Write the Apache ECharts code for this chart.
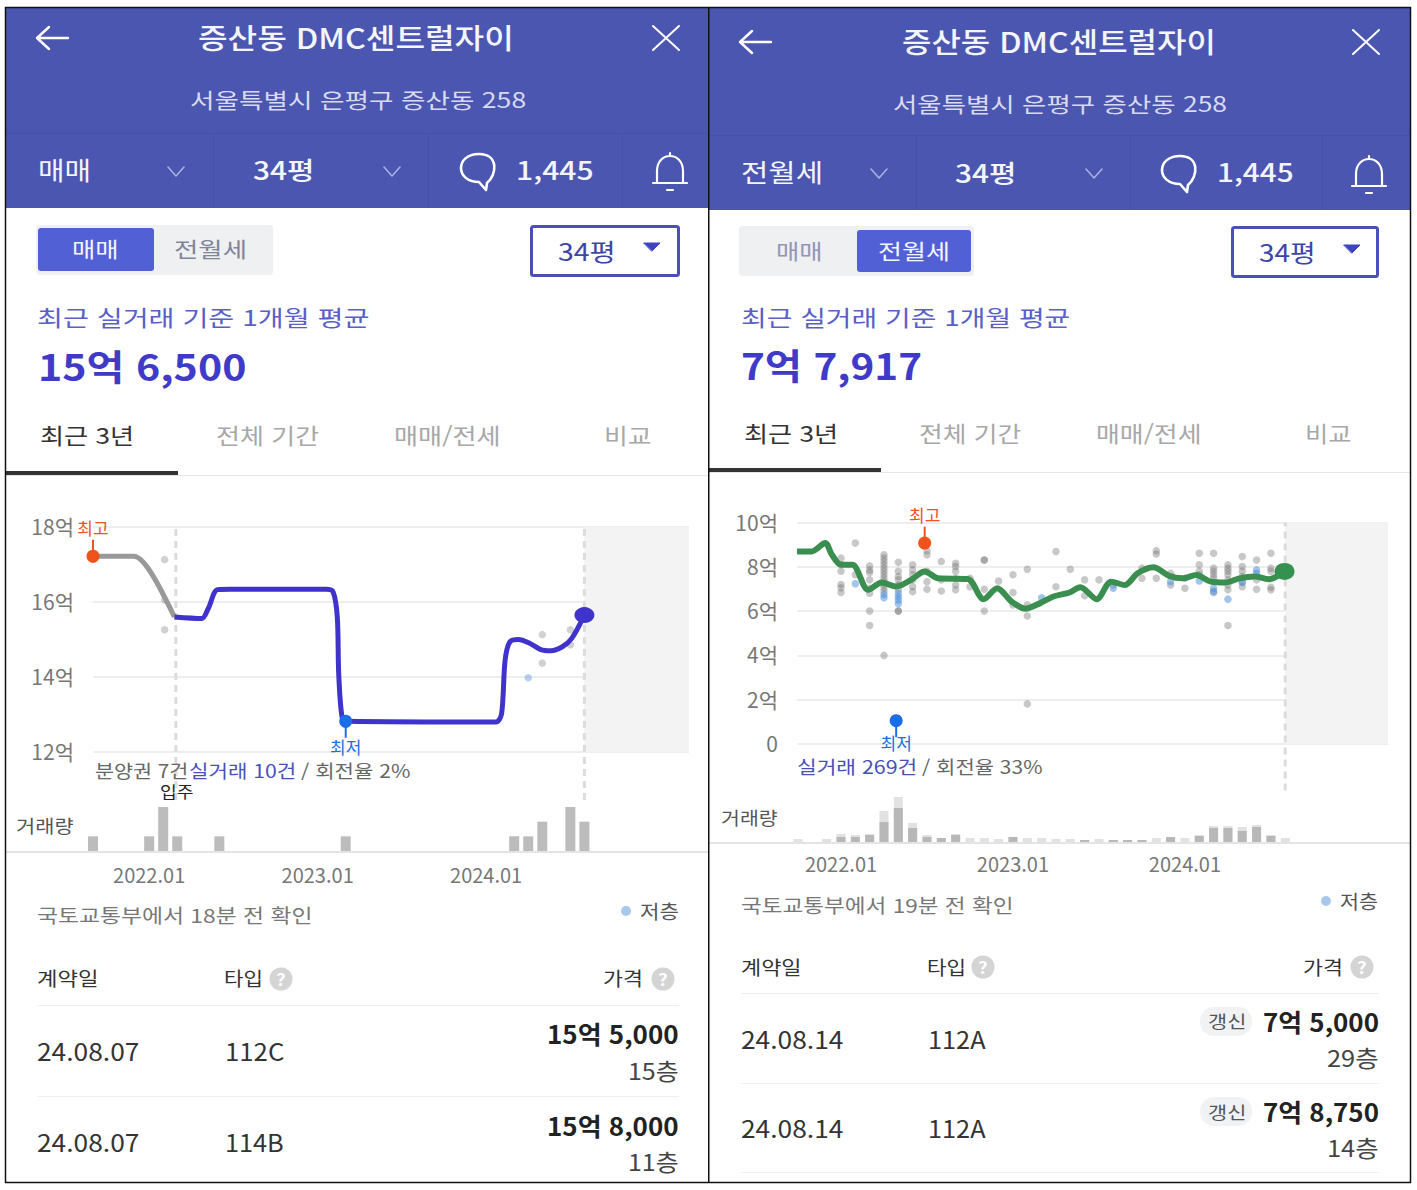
<!DOCTYPE html>
<html lang="ko">
<head>
<meta charset="utf-8">
<title>증산동 DMC센트럴자이</title>
<style>
html,body{margin:0;padding:0;background:#fff;}
#page{position:relative;width:1417px;height:1190px;overflow:hidden;font-family:"Noto Sans CJK KR","Noto Sans",sans-serif;}
#shapes,#main{position:absolute;left:0;top:0;width:1417px;height:1190px;}
.t{position:absolute;white-space:pre;line-height:1;transform-origin:left center;}
</style>
</head>
<body>
<div id="page">
  <svg id="shapes" width="1417" height="1190"></svg>
  <div id="main"></div>
</div>
<script src="https://cdn.jsdelivr.net/npm/echarts@6/dist/echarts.min.js"></script>
<script>
// x 값은 2022.01 기준 개월 수
var tickMonths = [0, 12, 24];
var tickLabels = ['2022.01', '2023.01', '2024.01'];

// 매매 (왼쪽)
var saleTicks = [12, 14, 16, 18];
var saleGrayLine = [[-4, 17.22], [-1.1, 17.22], [0.03, 16.84], [1.8, 15.6]];
var saleBlueLine = [[1.8, 15.6], [3.74, 15.56], [4.2, 15.82], [4.87, 16.33], [5.84, 16.34], [12.6, 16.34],
    [13.1, 16.27], [13.4, 15.6], [13.5, 14.09], [13.74, 12.93], [14.07, 12.82], [24.7, 12.8], [25.1, 13.02],
    [25.35, 14.44], [25.68, 14.93], [26.3, 15.0], [27.1, 14.9], [27.9, 14.73], [28.6, 14.7], [29.4, 14.8], [30.1, 15.03], [31, 15.65]];
var saleDots = [[1.1, 17.13], [1.1, 16.05], [1.1, 15.26], [28, 15.13], [28, 14.37], [30, 15.26], [30, 14.86]];
var saleLowDots = [[27, 13.98]];
var saleHigh = [-4, 17.22];
var saleLow = [14, 12.82];
var saleVolume = [[-4, 1], [0, 1], [1, 3], [2, 1], [5, 1], [14, 1], [26, 1], [27, 1], [28, 2], [30, 3], [31, 2]];
var saleMoveIn = 1.9;
var saleLast = 31;

// 전월세 (오른쪽)
var rentTicks = [0, 2, 4, 6, 8, 10];
var rentLine = [[-3.07, 8.69], [-2.05, 8.69], [-1.1, 9.07], [-0.63, 8.54], [0, 8.09], [0.79, 8.09], [1.9, 6.96], [2.84, 7.29],
    [3.85, 7.11], [4.89, 7.41], [5.84, 7.79], [6.79, 7.48], [8.84, 7.45], [9.95, 6.54], [10.9, 7.03], [11.9, 6.43], [12.88, 6.11],
    [13.9, 6.36], [14.84, 6.66], [15.95, 6.84], [16.7, 7.08], [17.84, 6.54], [18.85, 7.33], [19.8, 7.18], [20.7, 7.71], [21.8, 7.98],
    [22.9, 7.59], [23.84, 7.48], [24.8, 7.63], [25.8, 7.33], [26.84, 7.29], [27.8, 7.48], [28.9, 7.56], [29.84, 7.44], [30.95, 7.79]];
var rentDots = [
    [0, 8.39], [0, 8.1], [0, 7.8], [0, 7.2], [0, 7.05], [0, 6.84], [1, 9.07], [1, 7.64],
    [2, 8.04], [2, 7.86], [2, 7.74], [2, 7.41], [2, 7.03], [2, 6.81], [2, 6.0], [2, 5.35],
    [3, 8.54], [3, 8.4], [3, 8.25], [3, 8.1], [3, 7.95], [3, 7.8], [3, 7.65], [3, 7.5], [3, 7.35], [3, 7.2], [3, 7.05], [3, 6.9], [3, 4.0],
    [4, 8.2], [4, 7.8], [4, 7.56], [4, 7.41], [4, 7.18], [4, 6.96], [4, 6.0], [4, 6.0],
    [5, 8.09], [5, 7.86], [5, 7.64], [5, 7.41], [5, 7.1], [5, 6.88],
    [6, 8.73], [6, 8.54], [6, 7.8], [6, 7.33], [6, 6.99], [7, 8.24], [7, 7.41], [7, 6.91],
    [8, 8.16], [8, 8.01], [8, 7.8], [8, 7.48], [8, 7.18], [8, 6.96], [9, 7.48], [9, 7.1],
    [10, 8.31], [10, 8.31], [10, 6.99], [10, 6.0], [11, 7.36], [12, 7.64], [12, 6.84], [12, 6.28],
    [13, 7.89], [13, 6.28], [13, 5.78], [13, 1.81], [15, 8.69], [15, 7.1], [16, 7.89], [17, 7.41], [17, 6.69], [18, 7.41], [19, 7.18],
    [21, 7.94], [21, 7.48], [22, 8.73], [22, 8.58], [22, 7.48], [23, 7.71], [23, 7.18], [24, 7.48], [24, 7.03],
    [25, 8.61], [25, 8.09], [25, 7.8], [25, 7.64], [26, 8.61], [26, 7.94], [26, 7.8], [26, 7.64], [26, 7.48], [26, 6.9],
    [27, 8.09], [27, 7.94], [27, 7.8], [27, 7.64], [27, 7.41], [27, 7.18], [27, 6.96], [27, 5.35],
    [28, 8.46], [28, 8.01], [28, 7.8], [28, 7.56], [28, 7.33], [28, 7.1], [29, 8.31], [29, 7.41], [29, 6.99],
    [30, 8.61], [30, 7.94], [30, 7.8], [30, 7.08], [30, 6.96]];
var rentLowDots = [[1, 7.23], [3, 6.75], [3, 6.6], [4, 6.8], [4, 6.65], [4, 6.5], [4, 6.33], [14, 6.6], [19, 7.03], [23, 7.33],
    [25, 7.36], [26, 7.03], [26, 6.84], [27, 6.54], [28, 7.29], [29, 7.86], [29, 7.71]];
var rentHigh = [5.84, 9.07];
var rentLow = [3.85, 1.05];
// 거래량: 진한 막대와 연한 막대까지 합친 높이
var rentVolumeMain = [[0, 5], [1, 5], [2, 7], [3, 20], [4, 34], [5, 14], [6, 5], [7, 4], [8, 7],
    [12, 5], [17, 2], [19, 2], [20, 2], [21, 2], [23, 5], [25, 6], [26, 14], [27, 14], [28, 11], [29, 15], [30, 6]];
var rentVolumeTotal = [[-3, 3], [-1, 3], [0, 8], [1, 7], [2, 8], [3, 31], [4, 45], [5, 19], [6, 7], [7, 4], [8, 8], [9, 4], [10, 4], [11, 3],
    [12, 5], [13, 4], [14, 4], [15, 3], [16, 3], [17, 2], [18, 3], [19, 2], [20, 2], [21, 2], [22, 4], [23, 5], [24, 4], [25, 7],
    [26, 16], [27, 16], [28, 15], [29, 17], [30, 7], [31, 4]];
var rentLast = 31;

// ---- 화면 틀 (헤더, 표) ----
var page = document.getElementById('page');
var shapes = document.getElementById('shapes');
var shapeHtml = '';

// x1~x2 폭에 맞춰서 글자를 늘려 준다
function text(x1, x2, yc, size, color, weight, str) {
    var el = document.createElement('span');
    el.className = 't';
    el.textContent = str;
    el.style.left = x1 + 'px';
    el.style.top = (yc - size * 0.06) + 'px';
    el.style.fontSize = size + 'px';
    el.style.color = color;
    el.style.fontWeight = weight;
    page.appendChild(el);
    var k = (x2 - x1) / el.offsetWidth;
    el.style.transform = 'translateY(-50%) scaleX(' + k.toFixed(3) + ')';
}
function rect(x, y, w, h, fill, r, stroke, sw) {
    shapeHtml += '<rect x="' + x + '" y="' + y + '" width="' + w + '" height="' + h + '" fill="' + fill + '" rx="' + (r || 0) + '"' +
        (stroke ? ' stroke="' + stroke + '" stroke-width="' + sw + '"' : '') + '/>';
}
function path(d, stroke, sw, fill) {
    shapeHtml += '<path d="' + d + '" stroke="' + stroke + '" stroke-width="' + sw + '" fill="' + (fill || 'none') + '" stroke-linecap="round" stroke-linejoin="round"/>';
}
function help(cx, cy) {
    shapeHtml += '<circle cx="' + cx + '" cy="' + cy + '" r="11.5" fill="#d4d4d4"/>';
    text(cx - 5, cx + 5, cy, 17, '#fff', 700, '?');
}

function header(ox, barBottom, sepY, by, closeX, dividers, chevrons, ySel) {
    rect(ox, 8, 702, barBottom - 8, '#4b56b1');
    rect(ox, sepY, 702, 1, '#4650a8');
    dividers.forEach(function(x) { rect(x, sepY, 1, barBottom - sepY, '#4650a8'); });
    path('M' + (ox + 31) + ' ' + by + 'H' + (ox + 62) + 'M' + (ox + 43) + ' ' + (by - 11) + 'L' + (ox + 31) + ' ' + by + 'L' + (ox + 43) + ' ' + (by + 11), '#fff', 2.4);
    path('M' + (closeX - 13) + ' ' + (by - 12) + 'L' + (closeX + 13) + ' ' + (by + 12) + 'M' + (closeX + 13) + ' ' + (by - 12) + 'L' + (closeX - 13) + ' ' + (by + 12), '#fff', 2);
    chevrons.forEach(function(x) {
        path('M' + (x - 8) + ' ' + (ySel - 4) + 'L' + x + ' ' + (ySel + 5) + 'L' + (x + 8) + ' ' + (ySel - 4), '#a9afe0', 1.6);
    });
}
function comment(x, y) { // 말풍선, x는 왼쪽 끝
    path('M' + (x + 28) + ' ' + (y + 13) + 'C' + (x + 38) + ' ' + (y + 5) + ' ' + (x + 40) + ' ' + (y - 16) + ' ' + (x + 20) + ' ' + (y - 16) +
        'C' + (x - 4) + ' ' + (y - 16) + ' ' + (x - 4) + ' ' + (y + 12) + ' ' + (x + 20) + ' ' + (y + 12) + 'L' + (x + 27) + ' ' + (y + 20) + 'Z', '#fff', 2.6);
}
function bell(cx, y) {
    path('M' + (cx - 13) + ' ' + (y + 12) + 'V' + (y + 1) + 'C' + (cx - 13) + ' ' + (y - 19) + ' ' + (cx + 13) + ' ' + (y - 19) + ' ' + (cx + 13) + ' ' + (y + 1) + 'V' + (y + 12) +
        'M' + (cx - 17) + ' ' + (y + 13) + 'H' + (cx + 17) + 'M' + cx + ' ' + (y - 15) + 'V' + (y - 17) + 'M' + (cx - 3) + ' ' + (y + 20) + 'H' + (cx + 3), '#fff', 2.2);
}

// 왼쪽 화면
header(6, 208, 133, 38, 666, [213, 428, 622], [176, 392], 171);
comment(459, 170);
bell(670, 170);
rect(36, 225, 237, 50, '#eef0f2', 4);
rect(38, 228, 116, 43, '#5260d6', 3);
rect(531.5, 226.5, 147, 49, '#fff', 2, '#4a50b8', 3);
path('M644 243H660L652 251Z', '#3d45c0', 1, '#3d45c0');
rect(6, 475, 702, 1, '#e6e6e6');
rect(6, 471, 172, 4, '#333');
rect(6, 851, 702, 2, '#e4e4e4');
shapeHtml += '<circle cx="626" cy="911" r="5" fill="#a9c8ee"/>';
rect(37, 1005, 642, 1, '#efefef');
rect(37, 1096, 642, 1, '#efefef');

// 오른쪽 화면
header(709, 210, 135, 42, 1366, [916, 1130, 1322], [879, 1094], 173);
comment(1160, 172);
bell(1369, 173);
rect(739, 226, 235, 50, '#eef0f2', 4);
rect(857, 230, 114, 42, '#5260d6', 3);
rect(1232.5, 227.5, 145, 49, '#fff', 2, '#4a50b8', 3);
path('M1344 245H1360L1352 253Z', '#3d45c0', 1, '#3d45c0');
rect(709, 472, 702, 1, '#e6e6e6');
rect(709, 468, 172, 4, '#333');
rect(709, 842, 702, 2, '#e4e4e4');
shapeHtml += '<circle cx="1326" cy="901" r="5" fill="#a9c8ee"/>';
rect(741, 993, 638, 1, '#efefef');
rect(741, 1083, 638, 1, '#efefef');
rect(741, 1172, 638, 1, '#efefef');
rect(1200, 1007, 52, 29, '#f1f2f4', 14);
rect(1200, 1097, 52, 29, '#f1f2f4', 14);

// 바깥 테두리
rect(5.5, 7.5, 1405, 1175, 'none', 0, '#111', 1.5);
rect(708, 7.5, 1.5, 1175, '#111');

[
    [198, 514, 39, 28, '#f4f5fb', 500, '증산동 DMC센트럴자이'],
    [190, 526, 100, 21, '#d8dbf0', 400, '서울특별시 은평구 증산동 258'],
    [38, 91, 170, 25, '#f4f5fb', 400, '매매'],
    [253, 315, 170, 25, '#f4f5fb', 500, '34평'],
    [516, 593, 170, 25, '#f4f5fb', 500, '1,445'],
    [72, 119, 249, 21, '#f4f5fb', 400, '매매'],
    [174, 247, 249, 21, '#80859a', 400, '전월세'],
    [558, 616, 252, 24, '#3d45a8', 400, '34평'],
    [37, 370, 317, 22, '#5a5fc8', 400, '최근 실거래 기준 1개월 평균'],
    [38, 246, 367, 36, '#3f3ac8', 700, '15억 6,500'],
    [40, 134, 435, 22, '#333', 400, '최근 3년'],
    [216, 319, 435, 22, '#a8a8a8', 400, '전체 기간'],
    [394, 501, 435, 22, '#a8a8a8', 400, '매매/전세'],
    [604, 651, 435, 22, '#a8a8a8', 400, '비교'],
    [95, 188, 771, 18, '#666', 400, '분양권 7건'],
    [189, 296, 771, 18, '#4a4fb8', 400, '실거래 10건'],
    [301, 410, 771, 18, '#666', 400, '/ 회전율 2%'],
    [160, 193, 792, 16, '#222', 400, '입주'],
    [16, 74, 826, 18, '#555', 400, '거래량'],
    [37, 312, 915, 19, '#777', 400, '국토교통부에서 18분 전 확인'],
    [640, 679, 911, 19, '#555', 400, '저층'],
    [37, 98, 978, 19, '#333', 400, '계약일'],
    [224, 263, 978, 19, '#333', 400, '타입'],
    [603, 643, 978, 19, '#333', 400, '가격'],
    [37, 139, 1052, 24, '#333', 400, '24.08.07'],
    [225, 284, 1052, 24, '#333', 400, '112C'],
    [547, 679, 1034, 25, '#222', 700, '15억 5,000'],
    [628, 679, 1071, 23, '#444', 400, '15층'],
    [37, 139, 1143, 24, '#333', 400, '24.08.07'],
    [225, 284, 1143, 24, '#333', 400, '114B'],
    [547, 679, 1126, 25, '#222', 700, '15억 8,000'],
    [628, 679, 1162, 23, '#444', 400, '11층'],

    [902, 1216, 43, 28, '#f4f5fb', 500, '증산동 DMC센트럴자이'],
    [893, 1227, 104, 21, '#d8dbf0', 400, '서울특별시 은평구 증산동 258'],
    [741, 823, 172, 25, '#f4f5fb', 400, '전월세'],
    [955, 1017, 173, 25, '#f4f5fb', 500, '34평'],
    [1217, 1293, 172, 25, '#f4f5fb', 500, '1,445'],
    [776, 823, 251, 21, '#9296b8', 400, '매매'],
    [878, 950, 251, 21, '#f4f5fb', 400, '전월세'],
    [1259, 1316, 253, 24, '#3d45a8', 400, '34평'],
    [741, 1071, 317, 22, '#5a5fc8', 400, '최근 실거래 기준 1개월 평균'],
    [741, 922, 366, 36, '#3f3ac8', 700, '7억 7,917'],
    [744, 838, 433, 22, '#333', 400, '최근 3년'],
    [919, 1021, 433, 22, '#a8a8a8', 400, '전체 기간'],
    [1096, 1202, 433, 22, '#a8a8a8', 400, '매매/전세'],
    [1305, 1351, 433, 22, '#a8a8a8', 400, '비교'],
    [797, 917, 767, 18, '#4a4fb8', 400, '실거래 269건'],
    [922, 1042, 767, 18, '#666', 400, '/ 회전율 33%'],
    [721, 778, 818, 18, '#555', 400, '거래량'],
    [741, 1013, 905, 19, '#777', 400, '국토교통부에서 19분 전 확인'],
    [1340, 1378, 901, 19, '#555', 400, '저층'],
    [741, 801, 967, 19, '#333', 400, '계약일'],
    [927, 966, 967, 19, '#333', 400, '타입'],
    [1303, 1343, 967, 19, '#333', 400, '가격'],
    [741, 843, 1040, 24, '#333', 400, '24.08.14'],
    [928, 986, 1040, 24, '#333', 400, '112A'],
    [1208, 1246, 1021, 17, '#555', 400, '갱신'],
    [1263, 1379, 1022, 25, '#222', 700, '7억 5,000'],
    [1327, 1379, 1058, 23, '#444', 400, '29층'],
    [741, 843, 1129, 24, '#333', 400, '24.08.14'],
    [928, 986, 1129, 24, '#333', 400, '112A'],
    [1208, 1246, 1112, 17, '#555', 400, '갱신'],
    [1263, 1379, 1112, 25, '#222', 700, '7억 8,750'],
    [1327, 1379, 1148, 23, '#444', 400, '14층']
].forEach(function(r) { text(r[0], r[1], r[2], r[3], r[4], r[5], r[6]); });
help(281, 979);
help(663, 979);
help(983, 967);
help(1362, 967);
shapes.innerHTML = shapeHtml;

// ---- 차트 ----
var myChart = echarts.init(document.getElementById('main'), null, { renderer: 'svg' });
var FONT = '"Noto Sans CJK KR","Noto Sans",sans-serif';

function monthAxis(grid, min, max, labelMargin) {
    return {
        type: 'value', gridIndex: grid, min: min, max: max,
        axisLine: { show: false }, axisTick: { show: false }, splitLine: { show: false },
        axisLabel: {
            show: labelMargin > 0, customValues: tickMonths, margin: labelMargin, color: '#777', fontSize: 20, fontFamily: FONT,
            formatter: function(v) { return tickLabels[tickMonths.indexOf(v)]; }
        }
    };
}
function priceAxis(grid, min, max) {
    return {
        type: 'value', gridIndex: grid, min: min, max: max, interval: 2,
        axisLine: { show: false }, axisTick: { show: false },
        splitLine: { lineStyle: { color: '#e9e9e9', width: 1.5 } },
        axisLabel: {
            margin: 19, color: '#777', fontSize: 21, fontFamily: FONT, verticalAlign: 'bottom', lineHeight: 2,
            formatter: function(v) { return v === 0 ? '0' : v + '억'; }
        }
    };
}
function plainAxis(grid, min, max) {
    return { type: 'value', gridIndex: grid, min: min, max: max, show: false, splitLine: { show: false } };
}
function dots(ax, data, color) {
    return { type: 'scatter', xAxisIndex: ax, yAxisIndex: ax, data: data, symbolSize: 7.5, silent: true, z: 3, itemStyle: { color: color, opacity: 1 } };
}
function line(ax, data, color, width, smooth) {
    return {
        type: 'line', xAxisIndex: ax, yAxisIndex: ax, smooth: smooth, clip: false, z: 4,
        symbol: 'none', lineStyle: { color: color, width: width, join: 'round' }, data: data
    };
}
function endDot(ax, point, color, size) {
    return {
        type: 'scatter', xAxisIndex: ax, yAxisIndex: ax, clip: false, z: 5, symbolSize: size,
        itemStyle: { color: color, opacity: 1 }, data: [point]
    };
}
// 최고, 최저 표시: 점, 막대, 글자
function pin(ax, point, label, color, up, dist) {
    return [{
        type: 'scatter', xAxisIndex: ax, yAxisIndex: ax, data: [point], clip: false, z: 6,
        symbol: 'rect', symbolSize: [2, 17], symbolOffset: [0, up ? -8 : 8], itemStyle: { color: color, opacity: 1 }
    }, {
        type: 'scatter', xAxisIndex: ax, yAxisIndex: ax, data: [point], clip: false, z: 7,
        symbolSize: 13, itemStyle: { color: color, opacity: 1 },
        label: {
            show: true, position: up ? 'top' : 'bottom', distance: dist, formatter: label,
            color: color, fontSize: 17, fontFamily: FONT
        }
    }];
}
function guide(ax, month) { // 세로 점선
    return {
        type: 'line', xAxisIndex: ax, yAxisIndex: ax, symbol: 'none', z: 2,
        lineStyle: { color: '#dcdcdc', width: 3, type: [7, 5] }, data: [[month, 0], [month, 1]]
    };
}
function futureBand(ax, from, to) { // 회색 구간
    return {
        type: 'line', xAxisIndex: ax, yAxisIndex: ax, data: [], z: 1,
        markArea: { silent: true, itemStyle: { color: '#f3f3f3' }, data: [[{ xAxis: from }, { xAxis: to }]] }
    };
}
function bars(ax, data, color, width) {
    return { type: 'bar', xAxisIndex: ax, yAxisIndex: ax, data: data, barWidth: width, barGap: '-100%', clip: false, itemStyle: { color: color } };
}

var saleMin = -4, saleMax = 38.45, rentMin = -3.07, rentMax = 38.17;
var option = {
    animation: false,
    textStyle: { fontFamily: FONT },
    grid: [
        { left: 93, top: 527, width: 596, height: 225 },
        { left: 93, top: 527, width: 596, height: 273 },
        { left: 93, top: 807, width: 596, height: 44 },
        { left: 797, top: 522.5, width: 591, height: 221.5 },
        { left: 797, top: 522.5, width: 591, height: 268 },
        { left: 797, top: 797, width: 591, height: 45 }
    ],
    xAxis: [
        monthAxis(0, saleMin, saleMax, 0), monthAxis(1, saleMin, saleMax, 0), monthAxis(2, saleMin, saleMax, 13),
        monthAxis(3, rentMin, rentMax, 0), monthAxis(4, rentMin, rentMax, 0), monthAxis(5, rentMin, rentMax, 11)
    ],
    yAxis: [
        priceAxis(0, saleTicks[0], saleTicks[saleTicks.length - 1]), plainAxis(1, 0, 1), plainAxis(2, 0, 3),
        priceAxis(3, rentTicks[0], rentTicks[rentTicks.length - 1]), plainAxis(4, 0, 1), plainAxis(5, 0, 45)
    ],
    series: [
        futureBand(0, saleLast, saleMax),
        guide(1, saleMoveIn),
        guide(1, saleLast),
        dots(0, saleDots, 'rgba(140,140,140,0.4)'),
        dots(0, saleLowDots, 'rgba(80,140,215,0.4)'),
        line(0, saleGrayLine, '#999', 5, 0.3),
        line(0, saleBlueLine, '#3f33cc', 5, 0.3),
        endDot(0, saleBlueLine[saleBlueLine.length - 1], '#3f33cc', [20, 16]),
        bars(2, saleVolume, '#bcbcbc', 10),

        futureBand(3, rentLast, rentMax),
        guide(4, rentLast),
        dots(3, rentDots, 'rgba(110,110,110,0.38)'),
        dots(3, rentLowDots, 'rgba(70,140,220,0.5)'),
        line(3, rentLine, '#3a8f50', 6, 0.3),
        endDot(3, rentLine[rentLine.length - 1], '#34914f', [20, 17]),
        bars(5, rentVolumeTotal, '#e2e2e2', 9),
        bars(5, rentVolumeMain, '#b8b8b8', 9)
    ].concat(
        pin(0, saleHigh, '최고', '#f0521e', true, 14),
        pin(0, saleLow, '최저', '#1a6ee6', false, 10),
        pin(3, rentHigh, '최고', '#f0521e', true, 14),
        pin(3, rentLow, '최저', '#1a6ee6', false, 7)
    )
};
myChart.setOption(option);
</script>
</body>
</html>
